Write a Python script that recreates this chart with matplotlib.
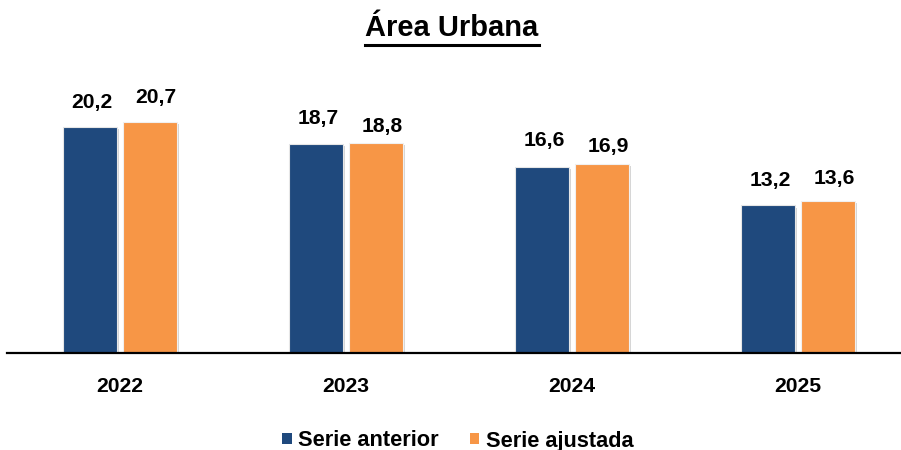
import matplotlib
matplotlib.use("Agg")
import matplotlib.pyplot as plt
import matplotlib.patheffects as pe
from matplotlib.patches import Patch
from matplotlib.lines import Line2D
import numpy as np

plt.rcParams['font.family'] = ['Liberation Sans', 'DejaVu Sans']

years = ["2022", "2023", "2024", "2025"]
serie_anterior = [20.2, 18.7, 16.6, 13.2]
serie_ajustada = [20.7, 18.8, 16.9, 13.6]
labels_anterior = ["20,2", "18,7", "16,6", "13,2"]
labels_ajustada = ["20,7", "18,8", "16,9", "13,6"]
series_names = ["Serie anterior", "Serie ajustada"]
title = "Área Urbana"

# label offsets (in pixels above bar tops), style only
off_anterior = [25, 25, 27, 25]
off_ajustada = [24, 16, 18, 22]

c_blue = "#1F497D"
c_orange = "#F79646"

fig = plt.figure(figsize=(9.01, 4.5), dpi=100)
ax = fig.add_axes([7 / 901, (450 - 353) / 450, (901 - 7) / 901, 353 / 450])

x = np.arange(len(years))
w = 0.237
gap = 0.03
shadow = [pe.SimplePatchShadow(offset=(1.5, -1.5), shadow_rgbFace="#888888", alpha=0.35), pe.Normal()]

b1 = ax.bar(x - (w + gap) / 2, serie_anterior, width=w, color=c_blue,
            edgecolor="#e6e6e6", linewidth=0.8, zorder=3)
b2 = ax.bar(x + (w + gap) / 2, serie_ajustada, width=w, color=c_orange,
            edgecolor="#f0f0f0", linewidth=0.8, zorder=3)
for b in list(b1) + list(b2):
    b.set_path_effects(shadow)

px = 72 / 100
for i, (bar, lab) in enumerate(zip(b1, labels_anterior)):
    ax.annotate(lab, (bar.get_x() + bar.get_width() / 2, bar.get_height()),
                xytext=(2 * px, off_anterior[i] * px), textcoords="offset points",
                ha="center", va="center", fontsize=15.2, fontweight="bold", color="black")
for i, (bar, lab) in enumerate(zip(b2, labels_ajustada)):
    ax.annotate(lab, (bar.get_x() + bar.get_width() / 2, bar.get_height()),
                xytext=(6 * px, off_ajustada[i] * px), textcoords="offset points",
                ha="center", va="center", fontsize=15.2, fontweight="bold", color="black")

ax.set_xlim(-0.5, 3 + (901 - 798) / 226)
ax.set_ylim(0, 353 / 11.18)
ax.set_xticks(x)
ax.set_xticklabels(years, fontsize=15.2, fontweight="bold")
ax.tick_params(axis="x", length=0, pad=17)
ax.set_yticks([])
for s in ["top", "right", "left"]:
    ax.spines[s].set_visible(False)
ax.spines["bottom"].set_linewidth(1.6)
ax.spines["bottom"].set_color("black")
ax.spines["bottom"].set_zorder(4)

# title with underline
t = fig.text(452 / 901, 1 - 28 / 450, title, ha="center", va="center",
             fontsize=21, fontweight="bold")
fig.canvas.draw()
bb = t.get_window_extent()
y_ul = 1 - 44.5 / 450
fig.add_artist(Line2D([bb.x0 / 901, bb.x1 / 901], [y_ul, y_ul], color="black",
                      linewidth=2.2, transform=fig.transFigure))

handles = [Patch(facecolor=c_blue, edgecolor="none"), Patch(facecolor=c_orange, edgecolor="none")]
fig.legend(handles, series_names, loc="center", bbox_to_anchor=(458 / 901, 1 - 441 / 450),
           ncol=2, frameon=False, prop={"size": 15.7, "weight": "bold"},
           handlelength=0.42, handleheight=0.42, handletextpad=0.3, columnspacing=1.45,
           borderpad=0, borderaxespad=0)

fig.savefig("out.png", dpi=100)
